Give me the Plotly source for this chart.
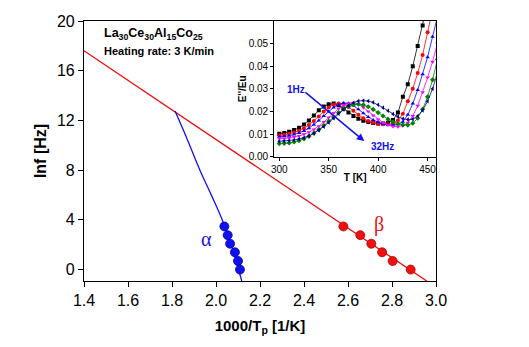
import plotly.graph_objects as go

# ---- main panel data ----
alpha_x = [2.038, 2.053, 2.064, 2.086, 2.100, 2.109]
alpha_y = [3.47, 2.77, 2.08, 1.39, 0.69, 0.0]
beta_x = [2.579, 2.656, 2.706, 2.755, 2.803, 2.885]
beta_y = [3.47, 2.77, 2.08, 1.39, 0.69, 0.0]
alpha_fit_x = [1.814, 1.870, 1.927, 1.980, 2.026, 2.070, 2.117]
alpha_fit_y = [12.75, 10.45, 8.0, 5.95, 4.1, 1.95, -0.92]
beta_fit_x = [1.40, 2.96]
beta_fit_y = [17.6, -0.95]

x_ticks = [1.4, 1.6, 1.8, 2.0, 2.2, 2.4, 2.6, 2.8, 3.0]
y_ticks = [0, 4, 8, 12, 16, 20]

# ---- inset data (E''/Eu vs T) ----
T = [300, 305, 310, 315, 320, 325, 330, 335, 340, 345, 350, 355, 360, 365, 370, 375,
     380, 385, 390, 395, 400, 405, 410, 415, 420, 425, 430, 435, 440, 445, 450, 455, 460]
e_1hz = [.0102, .0105, .0110, .0118, .0128, .0142, .0160, .0182, .0205, .0222, .0232, .0235, .0228, .0213, .0196, .0180,
         .0168, .0159, .0153, .0149, .0147, .0147, .0150, .0162, .0195, .0265, .0320, .0400, .0490, .0580, .0680, None, None]
e_2hz = [.0095, .0097, .0101, .0107, .0115, .0126, .0140, .0158, .0178, .0200, .0218, .0230, .0235, .0232, .0220, .0203,
         .0186, .0170, .0158, .0150, .0145, .0143, .0143, .0147, .0160, .0190, .0245, .0300, .0370, .0450, .0550, .0650, None]
e_4hz = [.0088, .0090, .0093, .0098, .0105, .0114, .0126, .0141, .0160, .0180, .0200, .0218, .0230, .0237, .0236, .0226,
         .0210, .0192, .0176, .0162, .0152, .0145, .0141, .0140, .0143, .0155, .0185, .0235, .0295, .0365, .0440, .0530, .0620]
e_8hz = [.0080, .0081, .0083, .0087, .0092, .0099, .0108, .0120, .0135, .0153, .0173, .0193, .0212, .0227, .0236, .0238,
         .0232, .0218, .0200, .0182, .0165, .0150, .0140, .0134, .0133, .0137, .0150, .0180, .0225, .0285, .0350, .0420, .0500]
e_16hz = [.0058, .0059, .0061, .0065, .0071, .0079, .0090, .0104, .0120, .0138, .0157, .0176, .0195, .0211, .0223, .0230,
          .0232, .0229, .0221, .0209, .0195, .0180, .0166, .0154, .0146, .0141, .0140, .0148, .0170, .0210, .0265, .0340, .0430]
e_32hz = [.0068, .0069, .0071, .0074, .0078, .0084, .0092, .0103, .0117, .0133, .0151, .0170, .0190, .0209, .0226, .0239,
          .0246, .0248, .0246, .0240, .0230, .0217, .0203, .0189, .0177, .0168, .0164, .0166, .0180, .0205, .0245, .0300, .0370]
inset_series = [
    ("1Hz", e_1hz, "black", "square"),
    ("2Hz", e_2hz, "red", "circle"),
    ("4Hz", e_4hz, "blue", "triangle-up"),
    ("8Hz", e_8hz, "magenta", "triangle-down"),
    ("16Hz", e_16hz, "green", "diamond"),
    ("32Hz", e_32hz, "navy", "triangle-left"),
]
inset_xticks = [300, 350, 400, 450]
inset_yticks = [0.00, 0.01, 0.02, 0.03, 0.04, 0.05]

FONT = "Liberation Sans, Arial, sans-serif"
BLUE = "#1010F0"
RED = "#F01010"

fig = go.Figure()

fig.add_trace(go.Scatter(x=beta_fit_x, y=beta_fit_y, mode="lines",
                         line=dict(color=RED, width=1.3), showlegend=False))
fig.add_trace(go.Scatter(x=alpha_fit_x, y=alpha_fit_y, mode="lines",
                         line=dict(color=BLUE, width=1.3, shape="spline"), showlegend=False))
fig.add_trace(go.Scatter(x=alpha_x, y=alpha_y, mode="markers",
                         marker=dict(color=BLUE, size=9, symbol="circle",
                                     line=dict(color="#0000A0", width=0.8)), showlegend=False))
fig.add_trace(go.Scatter(x=beta_x, y=beta_y, mode="markers",
                         marker=dict(color=RED, size=9, symbol="circle",
                                     line=dict(color="#B00000", width=0.8)), showlegend=False))

for name, vals, col, sym in inset_series:
    fig.add_trace(go.Scatter(x=T, y=vals, mode="lines+markers", xaxis="x2", yaxis="y2",
                             line=dict(color=col, width=0.8),
                             marker=dict(color=col, size=4, symbol=sym),
                             showlegend=False, name=name))

fig.update_layout(
    width=529, height=347,
    margin=dict(l=84, r=93, t=21, b=66),
    paper_bgcolor="white", plot_bgcolor="white",
    font=dict(family=FONT, color="black"),
    xaxis=dict(range=[1.4, 3.0], tickvals=x_ticks, ticktext=[f"{v:.1f}" for v in x_ticks],
               ticks="outside", ticklen=5, tickwidth=1.2, tickcolor="black",
               showline=True, linecolor="black", linewidth=1.2, mirror=True,
               showgrid=False, zeroline=False, tickfont=dict(size=16),
               title=dict(text="<b>1000/T<sub>p</sub> [1/K]</b>",
                          font=dict(size=15), standoff=12)),
    yaxis=dict(range=[-0.92, 20], tickvals=y_ticks,
               ticks="outside", ticklen=5, tickwidth=1.2, tickcolor="black",
               showline=True, linecolor="black", linewidth=1.2, mirror=True,
               showgrid=False, zeroline=False, tickfont=dict(size=16),
               title=dict(text="<b>lnf [Hz]</b>", font=dict(size=16), standoff=6)),
    xaxis2=dict(domain=[0.5406, 1.0], anchor="y2", range=[295, 458.5], tickvals=inset_xticks,
                ticks="outside", ticklen=3, tickcolor="black",
                showline=True, linecolor="black", linewidth=1.2, mirror=True,
                showgrid=False, zeroline=False, tickfont=dict(size=10, family=FONT),
                title=dict(text="<b>T [K]</b>", font=dict(size=10), standoff=0)),
    yaxis2=dict(domain=[0.478, 1.0], anchor="x2", range=[0, 0.06], tickvals=inset_yticks,
                tickformat=".2f",
                ticks="outside", ticklen=3, tickcolor="black",
                showline=True, linecolor="black", linewidth=1.2, mirror=True,
                showgrid=False, zeroline=False, tickfont=dict(size=10),
                title=dict(text="<b>E''/Eu</b>", font=dict(size=10), standoff=0)),
)
fig.update_xaxes(tickprefix="<b>", ticksuffix="</b>", selector=dict(anchor="y2"))
fig.update_yaxes(tickprefix="<b>", ticksuffix="</b>", selector=dict(anchor="x2"))

annots = [
    dict(x=0.05, y=0.99, xref="paper", yref="paper", xanchor="left", yanchor="top",
         text="<b>La<sub>30</sub>Ce<sub>30</sub>Al<sub>15</sub>Co<sub>25</sub></b>",
         showarrow=False, font=dict(size=12.5)),
    dict(x=0.05, y=0.885, xref="paper", yref="paper", xanchor="left", yanchor="middle",
         text="<b>Heating rate: 3 K/min</b>", showarrow=False, font=dict(size=11)),
    dict(x=1.955, y=2.5, xref="x", yref="y", text="α", showarrow=False,
         font=dict(size=20, color=BLUE, family="Liberation Serif, Times New Roman, serif")),
    dict(x=2.741, y=3.6, xref="x", yref="y", text="β", showarrow=False,
         font=dict(size=20, color=RED, family="Liberation Serif, Times New Roman, serif")),
    dict(x=386, y=0.0069, ax=325, ay=0.029, xref="x2", yref="y2", axref="x2", ayref="y2",
         text="", showarrow=True, arrowhead=2, arrowsize=1, arrowwidth=1.5, arrowcolor=BLUE),
    dict(x=316.5, y=0.0295, xref="x2", yref="y2", text="<b>1Hz</b>", showarrow=False,
         font=dict(size=10, color=BLUE)),
    dict(x=404, y=0.0043, xref="x2", yref="y2", text="<b>32Hz</b>", showarrow=False,
         font=dict(size=10, color=BLUE)),
]
fig.update_layout(annotations=annots)

fig.write_html("out.html")
